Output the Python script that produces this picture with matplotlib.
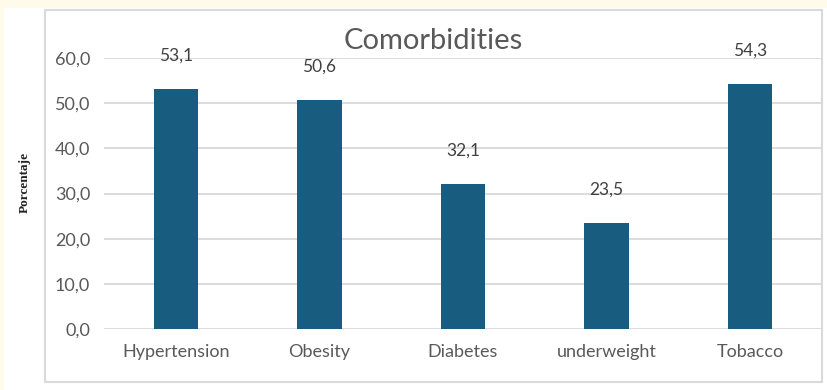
import matplotlib.pyplot as plt
from matplotlib.patches import Rectangle

categories = ["Hypertension", "Obesity", "Diabetes", "underweight", "Tobacco"]
values = [53.1, 50.6, 32.1, 23.5, 54.3]
yticks = [0, 10, 20, 30, 40, 50, 60]

W, H = 827, 390
fig = plt.figure(figsize=(W / 100, H / 100), dpi=100, facecolor="#FFFBEA")
plt.rcParams['font.family'] = ['Lato', 'DejaVu Sans']

# white page and the chart frame
fig.patches.append(Rectangle((4 / W, 0), 1, (H - 8) / H, transform=fig.transFigure,
                             facecolor="white", edgecolor="none", zorder=-2))
fig.patches.append(Rectangle((45 / W, 8 / H), 777 / W, 372 / H, transform=fig.transFigure,
                             facecolor="none", edgecolor="#D9D9D9", linewidth=1.5, zorder=-1))

ax = fig.add_axes([104 / W, 61 / H, 718 / W, 271 / H])
ax.set_zorder(1)
ax.set_facecolor("none")
x = range(len(categories))
ax.bar(x, values, width=0.31, color="#185D7F", zorder=3)
ax.set_xlim(-0.5, len(categories) - 0.5)
ax.set_ylim(0, 60)
ax.set_yticks(yticks)
ax.set_yticklabels([f"{v:.1f}".replace(".", ",") for v in yticks])
ax.set_xticks(list(x))
ax.set_xticklabels(categories)
ax.tick_params(axis="both", length=0, labelsize=13, colors="#595959")
ax.tick_params(axis="y", pad=10)
ax.tick_params(axis="x", pad=11)
ax.grid(axis="y", color="#D9D9D9", linewidth=1.3, zorder=0)
ax.set_axisbelow(True)
for s in ax.spines.values():
    s.set_visible(False)

for i, v in enumerate(values):
    ax.annotate(f"{v:.1f}".replace(".", ","), (i, v), xytext=(0, 24), textcoords="offset points",
                ha="center", va="center", fontsize=12.5, color="#404040", annotation_clip=False)

fig.text(433.5 / W, 1 - 41 / H, "Comorbidities", ha="center", va="center", fontsize=21, color="#595959")
fig.text(25 / W, 1 - 182 / H, "Porcentaje", ha="center", va="center", rotation=90,
         fontsize=9.5, fontweight="bold", family=["Liberation Serif", "DejaVu Serif"], color="#222222")

fig.savefig("out.png", dpi=100, facecolor=fig.get_facecolor())
